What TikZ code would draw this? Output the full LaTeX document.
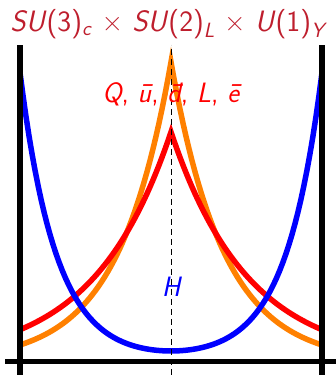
\documentclass[tikz,border=0pt]{standalone}
\definecolor{titlered}{RGB}{190,30,45}
\newcommand{\sv}[1]{\textit{#1}}
\begin{document}
\begin{tikzpicture}[x=1pt,y=1pt,every node/.style={font=\fontsize{28}{33}\selectfont\sffamily},
    curve/.style={line width=5.5pt}]
    \useasboundingbox (0,0) rectangle (336,375);
    \draw[orange,curve] plot[domain=-151:151,samples=101] ({171+\x},{13+300*exp(-0.019*abs(\x))});
    \draw[red,curve] plot[domain=-151:151,samples=101] ({171+\x},{13+230*exp(-0.013*abs(\x))});
    \draw[blue,curve] plot[domain=-151:151,samples=101] ({171+\x},{24+8.77*(cosh(0.0277*\x)-1)});
    \draw[dash pattern=on 6pt off 4pt,line width=1pt] (171,0) -- (171,330);
    \draw[line width=5.5pt] (20,0) -- (20,330);
    \draw[line width=5.5pt] (322,0) -- (322,330);
    \draw[line width=5pt] (5,13) -- (336,13);
    \node[titlered,anchor=base,font=\fontsize{29.5}{34}\selectfont\sffamily] (title) at (169,343)
        {\sv{SU}(3)\textsubscript{\sv{c}} × \sv{SU}(2)\textsubscript{\sv{L}} × \sv{U}(1)\textsubscript{\sv{Y}}};
    \node[red,anchor=base] (fermions) at (172,272) {\sv{Q}, \sv{\={u}}, \sv{\={d}}, \sv{L}, \sv{\={e}}};
    \node[blue,anchor=base] (higgs) at (172,78) {\sv{H}};
\end{tikzpicture}
\end{document}
